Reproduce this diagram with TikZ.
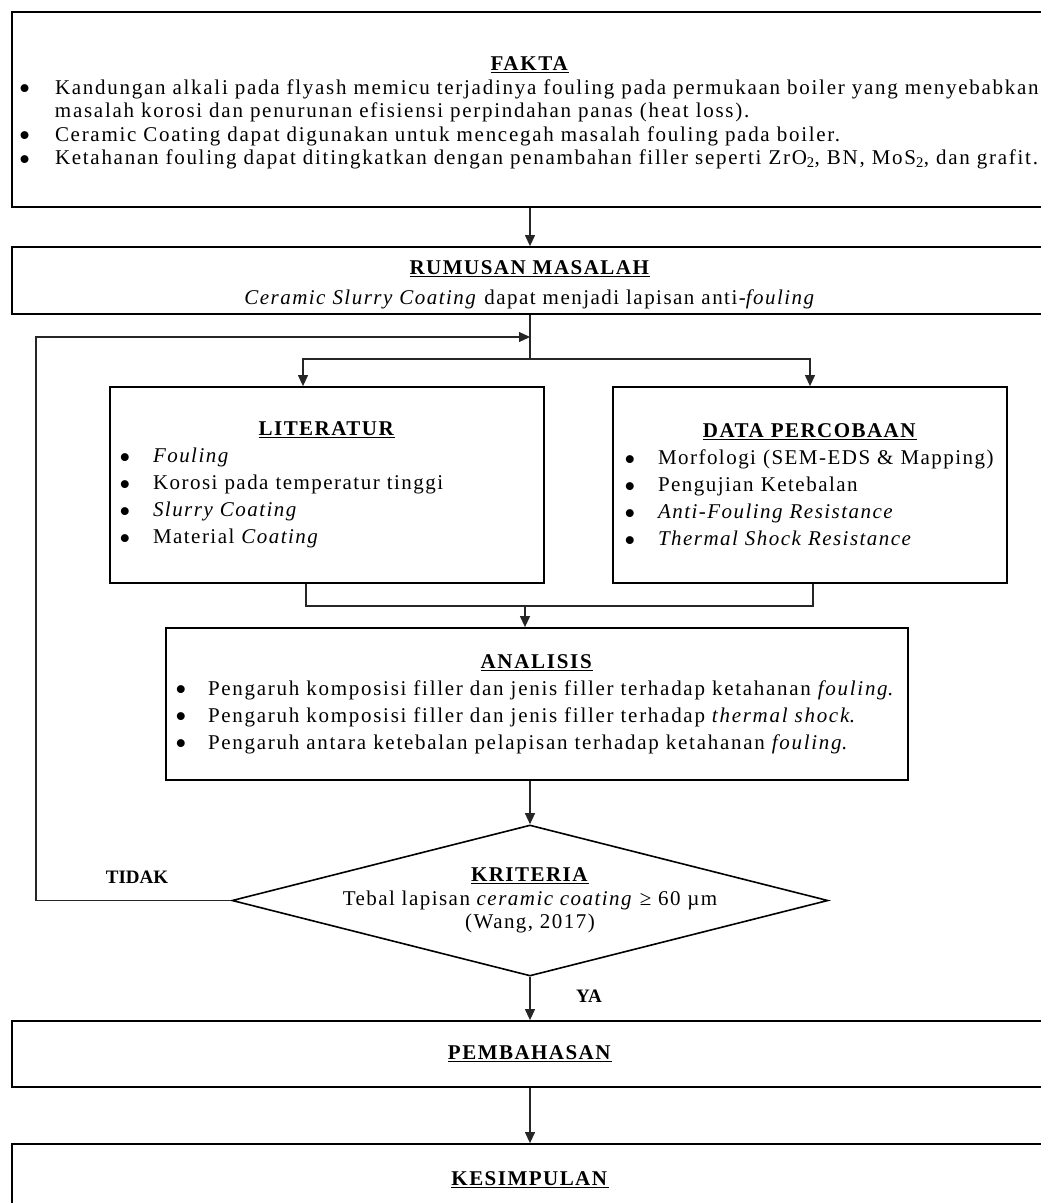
\documentclass[tikz,border=0pt]{standalone}
\usepackage{fontspec}
\setmainfont{Liberation Serif}[LetterSpace=7]
\newfontfamily\labelfont{Liberation Serif}
\usetikzlibrary{arrows.meta,shapes.geometric}
% bullet line and underlined box title
\newcommand\peluru{\smash{\raisebox{-5.5pt}{\fontsize{33}{33}\selectfont\textbullet}}}
\newcommand\itm[2][34pt]{\par\hangindent=#1\hangafter=1\noindent\makebox[#1][l]{\peluru}#2}
\newcommand\judul[2][0pt]{{\centering\rule{0pt}{#1}\underline{\textbf{#2}}\par}}

\begin{document}
\begin{tikzpicture}[x=1pt,y=-1pt,
	box/.style={draw=black, line width=1.8pt, rectangle, align=left,
		font=\fontsize{21}{27}\selectfont},
	widebox/.style={box, minimum width=1036pt, text width=1022pt, inner xsep=7pt},
	conn/.style={draw=black!85, line width=1.2pt},
	arr/.style={conn, -{Triangle[length=11pt,width=10pt]}},
	yesno/.style={font=\labelfont\fontsize{19}{22}\selectfont\bfseries}]
	\useasboundingbox (0,0) rectangle (1041,1203);
	\clip (0,0) rectangle (1041,1203);
	% Boxes
	\node[widebox, minimum height=195pt, font=\fontsize{21}{23.5}\selectfont\addfontfeatures{LetterSpace=8.2}] (fakta) at (530,109.5) {%
		\judul[21pt]{FAKTA}
		\itm[36pt]{\makebox[983pt][s]{Kandungan alkali pada flyash memicu terjadinya fouling pada permukaan boiler yang menyebabkan}\newline masalah korosi dan penurunan efisiensi perpindahan panas (heat loss).}
		\itm[36pt]{Ceramic Coating dapat digunakan untuk mencegah masalah fouling pada boiler.}
		\itm[36pt]{Ketahanan fouling dapat ditingkatkan dengan penambahan filler seperti ZrO\textsubscript{2}, BN, MoS\textsubscript{2}, dan grafit.}};
	\node[widebox, minimum height=67pt, font=\fontsize{21}{30}\selectfont] (rum) at (530,280.5) {%
		\judul[22pt]{RUMUSAN MASALAH}
		{\centering\textit{Ceramic Slurry Coating} dapat menjadi lapisan anti-\textit{fouling}\par}};
	\node[box, minimum width=434pt, text width=416pt, inner xsep=9pt, minimum height=196pt] (lit) at (327,485) {%
		\judul{LITERATUR}
		\itm{\textit{Fouling}}
		\itm{Korosi pada temperatur tinggi}
		\itm{\textit{Slurry Coating}}
		\itm{Material \textit{Coating}}};
	\node[box, minimum width=394pt, text width=372pt, inner xsep=11pt, minimum height=196pt] (data) at (810,485) {%
		\judul{DATA PERCOBAAN}
		\itm{Morfologi (SEM-EDS \& Mapping)}
		\itm{Pengujian Ketebalan}
		\itm{\textit{Anti-Fouling Resistance}}
		\itm{\textit{Thermal Shock Resistance}}};
	\node[box, minimum width=742pt, text width=724pt, inner xsep=9pt, minimum height=152pt, font=\fontsize{21}{27}\selectfont\addfontfeatures{LetterSpace=8.2}] (anal) at (537,704) {%
		\judul{ANALISIS}
		\itm[33pt]{Pengaruh komposisi filler dan jenis filler terhadap ketahanan \textit{fouling}.}
		\itm[33pt]{Pengaruh komposisi filler dan jenis filler terhadap \textit{thermal shock}.}
		\itm[33pt]{Pengaruh antara ketebalan pelapisan terhadap ketahanan \textit{fouling}.}};
	\node[draw=black, line width=1.6pt, diamond, inner sep=0pt, minimum width=596pt, minimum height=151pt] (krit) at (530,900.5) {};
	\node[align=center, font=\fontsize{21}{23.5}\selectfont] (kritteks) at (krit.center) {%
		\underline{\textbf{KRITERIA}}\\
		Tebal lapisan \textit{ceramic coating} ≥ 60 µm\\
		(Wang, 2017)};
	\node[widebox, minimum height=66pt] (pemb) at (530,1054) {\judul{PEMBAHASAN}};
	\node[widebox, minimum height=72pt] (kes) at (530,1180) {\judul{KESIMPULAN}};
	% Connectors
	\coordinate (cabang) at (530,359);
	\coordinate (balik) at (530,337);
	\coordinate (kiri) at (36,337);
	\coordinate (gabung) at (525,606);
	\draw[arr] (fakta) -- (rum);
	\draw[conn] (rum.south) -- (cabang);
	\draw[arr] (cabang) -| ([xshift=-24pt]lit.north);
	\draw[arr] (cabang) -| (data.north);
	\draw[conn] ([xshift=-21pt]lit.south) |- (gabung) -| ([xshift=3pt]data.south);
	\draw[arr] (gabung) -- ([xshift=-12pt]anal.north);
	\draw[arr] ([xshift=-7pt]anal.south) -- (krit.north);
	\draw[arr] (krit.south) -- (pemb.north);
	\draw[arr] (pemb) -- (kes);
	\draw[arr] (krit.west) -| (kiri) -- (balik);
	\node[yesno] (tidak) at (137,877) {TIDAK};
	\node[yesno] (ya) at (589,996) {YA};
\end{tikzpicture}
\end{document}
